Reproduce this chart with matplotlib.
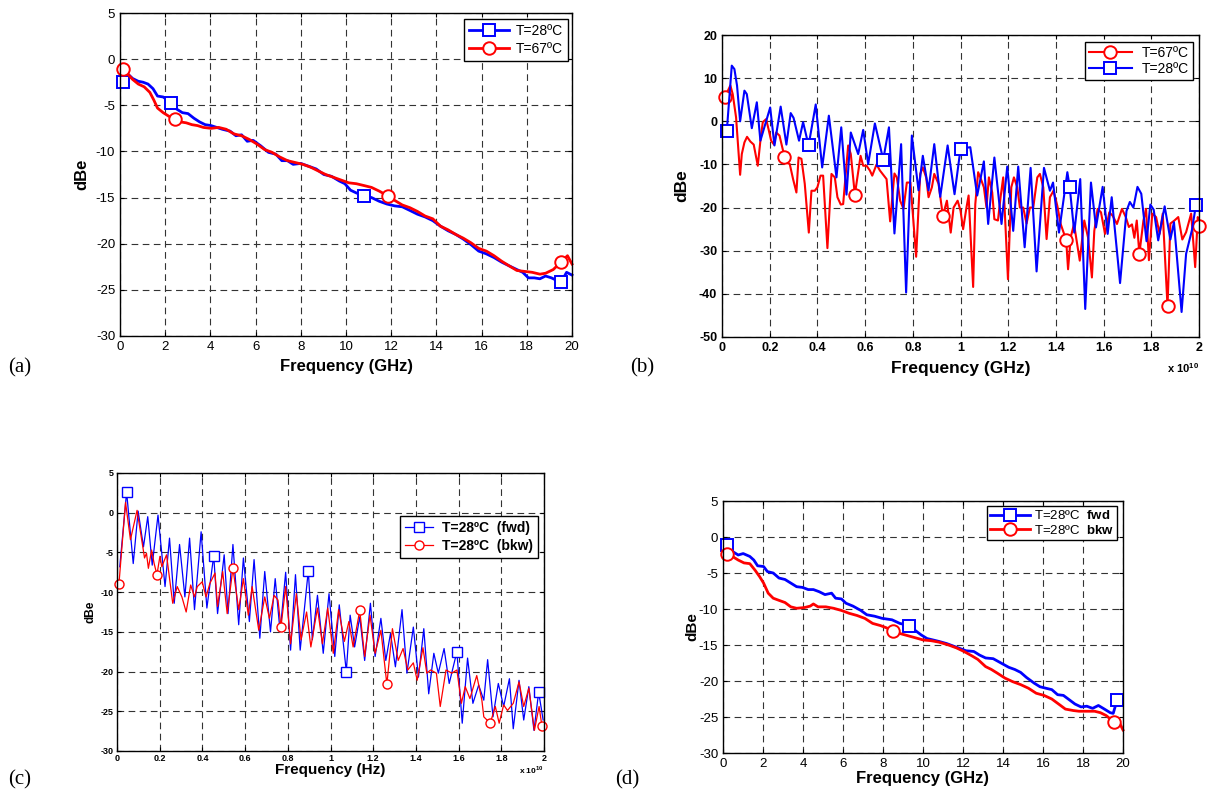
import numpy as np
import matplotlib
matplotlib.use('Agg')
import matplotlib.pyplot as plt

plt.rcParams['font.family'] = ['Liberation Sans', 'DejaVu Sans']
plt.rcParams['mathtext.fontset'] = 'custom'
plt.rcParams['mathtext.rm'] = 'Liberation Sans'
plt.rcParams['mathtext.bf'] = 'Liberation Sans:bold'
plt.rcParams['axes.unicode_minus'] = False

W, H = 1208, 800

# ---------------- (a) frequency in GHz ----------------
a_f28 = [0.14, 0.3, 0.56, 0.81, 1.02, 1.24, 1.46, 1.66, 1.91, 2.25, 2.5, 2.76, 3.01, 3.27, 3.52,
         3.77, 4.03, 4.28, 4.53, 4.87, 5.13, 5.38, 5.63, 5.89, 6.23, 6.57, 6.9, 7.16, 7.41, 7.66,
         8.0, 8.34, 8.68, 9.02, 9.36, 9.7, 9.95, 10.2, 10.46, 10.8, 11.13, 11.47, 11.81, 12.15,
         12.49, 12.83, 13.16, 13.5, 13.84, 14.18, 14.52, 14.86, 15.19, 15.53, 15.87, 16.21, 16.55,
         16.89, 17.22, 17.56, 17.82, 18.07, 18.33, 18.58, 18.83, 19.09, 19.34, 19.51, 19.76, 20.0]
a_db28 = [-2.5, -1.5, -2.1, -2.4, -2.5, -2.7, -3.2, -4.0, -4.1, -4.7, -5.4, -5.8, -5.9, -6.4, -6.8,
          -7.1, -7.2, -7.4, -7.6, -7.8, -8.3, -8.2, -8.9, -8.8, -9.4, -10.1, -10.3, -11.0, -11.0, -11.4,
          -11.3, -11.6, -11.9, -12.5, -12.7, -13.2, -13.5, -14.2, -14.5, -14.8, -15.0, -15.4, -15.7, -15.9,
          -16.0, -16.4, -16.8, -17.1, -17.5, -18.1, -18.6, -19.0, -19.5, -20.1, -20.8, -21.1, -21.5,
          -22.0, -22.4, -22.8, -23.1, -23.7, -23.7, -23.8, -23.5, -23.7, -24.0, -24.2, -23.1, -23.4]
a_mk28 = [0.14, 2.25, 10.8, 19.51]

a_f67 = [0.14, 0.3, 0.56, 0.81, 1.07, 1.32, 1.49, 1.66, 1.91, 2.17, 2.42, 2.67, 2.93, 3.18, 3.43,
         3.69, 4.03, 4.37, 4.7, 5.04, 5.38, 5.72, 6.06, 6.4, 6.73, 7.07, 7.41, 7.75, 8.09, 8.43,
         8.76, 9.1, 9.44, 9.78, 10.12, 10.46, 10.8, 11.13, 11.47, 11.84, 12.15, 12.49, 12.83, 13.16,
         13.5, 13.84, 14.18, 14.52, 14.86, 15.19, 15.53, 15.87, 16.21, 16.55, 16.89, 17.22, 17.56,
         17.9, 18.24, 18.58, 18.83, 19.17, 19.51, 19.8, 20.0]
a_db67 = [-1.1, -1.5, -2.2, -2.7, -3.0, -3.6, -4.4, -5.3, -5.8, -6.2, -6.5, -6.8, -6.9, -7.1, -7.2,
          -7.4, -7.5, -7.4, -7.6, -8.1, -8.3, -8.7, -9.2, -9.8, -10.1, -10.6, -11.0, -11.2, -11.4, -11.7,
          -12.1, -12.5, -12.8, -13.1, -13.4, -13.5, -13.7, -13.9, -14.3, -14.8, -15.3, -15.8, -16.1, -16.5,
          -17.0, -17.3, -18.1, -18.5, -19.0, -19.4, -19.9, -20.5, -20.8, -21.3, -21.9, -22.4, -22.9,
          -23.0, -23.1, -23.3, -23.2, -22.8, -22.0, -21.3, -22.2]
a_mk67 = [0.14, 2.42, 11.84, 19.51]

# ---------------- (b) frequency in units of 1e10 Hz ----------------
b_f67 = [0.013, 0.035, 0.045, 0.059, 0.076, 0.083, 0.094, 0.105, 0.119, 0.133, 0.15, 0.161, 0.171,
         0.185, 0.195, 0.206, 0.218, 0.227, 0.241, 0.262, 0.274, 0.284, 0.298, 0.312, 0.321, 0.333,
         0.347, 0.364, 0.375, 0.389, 0.40, 0.413, 0.424, 0.442, 0.459, 0.473, 0.484, 0.498, 0.508,
         0.529, 0.54, 0.557, 0.581, 0.592, 0.606, 0.62, 0.63, 0.648, 0.662, 0.676, 0.69, 0.705, 0.723,
         0.733, 0.747, 0.761, 0.775, 0.79, 0.814, 0.831, 0.842, 0.856, 0.866, 0.88, 0.89, 0.908, 0.926,
         0.943, 0.959, 0.971, 0.988, 1.0, 1.011, 1.025, 1.034, 1.053, 1.062, 1.074, 1.083, 1.098, 1.109,
         1.119, 1.133, 1.142, 1.157, 1.168, 1.179, 1.199, 1.213, 1.224, 1.238, 1.249, 1.263, 1.277,
         1.291, 1.305, 1.322, 1.333, 1.347, 1.361, 1.375, 1.39, 1.406, 1.42, 1.443, 1.451, 1.462, 1.476,
         1.5, 1.519, 1.535, 1.551, 1.561, 1.575, 1.589, 1.606, 1.624, 1.638, 1.656, 1.677, 1.693, 1.706,
         1.719, 1.729, 1.739, 1.75, 1.767, 1.778, 1.79, 1.804, 1.82, 1.835, 1.848, 1.868, 1.88, 1.897,
         1.913, 1.93, 1.946, 1.967, 1.984, 1.995, 2.0]
b_db67 = [5.7, 8.3, 6.3, 0.9, -12.4, -7.6, -4.9, -3.6, -4.7, -5.4, -10.3, -4.5, -0.2,
          0.5, -1.8, -4.5, -5.4, -2.6, -3.3, -8.2, -9.7, -9.9, -13.4, -16.5, -8.4, -8.7,
          -14.5, -25.8, -16.1, -16.1, -15.3, -12.6, -12.6, -29.4, -12.2, -13.0, -17.6, -19.3, -19.2,
          -5.6, -7.6, -17.0, -8.0, -10.3, -10.3, -11.4, -12.6, -10.0, -11.4, -12.4, -13.4, -23.2, -12.1,
          -13.0, -18.4, -20.3, -14.2, -14.2, -31.4, -12.2, -10.7, -13.0, -17.6, -15.3, -12.2, -14.5, -21.9,
          -18.4, -25.8, -20.0, -18.4, -20.7, -25.0, -20.0, -17.2, -38.4, -19.2, -11.8, -13.0, -15.3, -20.0,
          -13.0, -16.5, -22.7, -23.0, -17.6, -13.0, -36.6, -15.3, -13.0, -15.3, -20.0, -20.0, -23.7,
          -20.0, -20.0, -13.0, -12.2, -15.3, -27.3, -17.6, -16.1, -19.6, -23.8, -27.5, -34.3, -26.9, -23.8,
          -32.3, -23.0, -27.0, -36.2, -25.4, -20.3, -21.1, -26.1, -21.1, -21.9, -23.8, -20.3, -22.2, -24.5,
          -23.9, -27.0, -23.0, -30.7, -23.0, -20.3, -32.2, -21.4, -22.2, -26.1, -21.4, -42.9, -23.7, -23.0,
          -22.2, -27.4, -25.7, -21.4, -33.8, -22.2, -24.3]
b_mk67 = [0.013, 0.262, 0.557, 0.926, 1.443, 1.75, 1.868, 2.0]

b_f28 = [0.02, 0.041, 0.052, 0.063, 0.076, 0.094, 0.104, 0.125, 0.146, 0.161, 0.202, 0.22, 0.246,
         0.27, 0.288, 0.30, 0.323, 0.34, 0.363, 0.393, 0.42, 0.448, 0.48, 0.50, 0.522, 0.54, 0.571,
         0.592, 0.613, 0.641, 0.676, 0.70, 0.723, 0.751, 0.772, 0.796, 0.824, 0.842, 0.866, 0.89,
         0.915, 0.946, 0.975, 1.0, 1.041, 1.07, 1.098, 1.116, 1.142, 1.172, 1.196, 1.221, 1.242,
         1.269, 1.294, 1.319, 1.35, 1.375, 1.388, 1.413, 1.448, 1.458, 1.477, 1.502, 1.523, 1.547,
         1.568, 1.596, 1.617, 1.634, 1.669, 1.696, 1.71, 1.725, 1.742, 1.758, 1.78, 1.796, 1.81,
         1.829, 1.856, 1.88, 1.895, 1.927, 1.946, 1.97, 1.987, 2.0]
b_db28 = [-2.3, 12.9, 12.1, 8.3, 0.0, 7.1, 6.3, -1.6, 4.4, -4.5, 3.2, -5.6, 3.4,
          -5.4, 1.9, 0.8, -4.5, -0.2, -5.6, 3.9, -10.7, 1.3, -13.0, -1.4, -17.0, -2.6, -7.6,
          -2.0, -9.9, -0.5, -8.9, -1.4, -26.0, -5.3, -39.7, -3.3, -16.0, -8.0, -16.0, -5.3,
          -17.5, -5.6, -16.9, -6.4, -6.0, -17.2, -9.3, -23.8, -8.4, -23.8, -10.5, -25.4, -10.5,
          -29.2, -10.8, -34.8, -10.8, -16.1, -14.2, -25.8, -11.8, -15.3, -25.8, -13.4, -43.5, -14.2,
          -24.6, -15.2, -26.1, -17.6, -37.5, -20.8, -18.7, -20.0, -15.2, -16.8, -27.8, -19.3, -20.5,
          -27.6, -19.7, -27.4, -23.4, -44.2, -30.7, -25.3, -19.5, -19.0]
b_mk28 = [0.02, 0.363, 0.676, 1.0, 1.458, 1.987]

# ---------------- (c) frequency in units of 1e10 Hz ----------------
c_ffwd = [0.013, 0.045, 0.076, 0.099, 0.124, 0.144, 0.165, 0.192, 0.225, 0.246, 0.268, 0.293, 0.318,
          0.34, 0.363, 0.394, 0.421, 0.453, 0.471, 0.502, 0.52, 0.543, 0.57, 0.592, 0.62, 0.642, 0.669,
          0.692, 0.719, 0.741, 0.764, 0.79, 0.813, 0.836, 0.858, 0.896, 0.915, 0.939, 0.966, 0.993,
          1.02, 1.041, 1.074, 1.092, 1.113, 1.137, 1.16, 1.187, 1.209, 1.236, 1.259, 1.281, 1.304,
          1.335, 1.358, 1.388, 1.412, 1.437, 1.46, 1.484, 1.505, 1.532, 1.556, 1.592, 1.617, 1.642,
          1.667, 1.694, 1.718, 1.736, 1.761, 1.786, 1.811, 1.838, 1.856, 1.883, 1.905, 1.929, 1.953,
          1.975, 1.996]
c_dbfwd = [-6.8, 2.6, -6.4, 0.2, -4.3, -0.5, -6.6, -0.3, -9.3, -3.2, -11.4, -4.0, -10.6,
           -3.2, -12.2, -2.4, -12.0, -5.4, -12.7, -5.3, -12.7, -4.0, -14.1, -5.7, -13.7, -5.9, -15.8,
           -7.4, -15.0, -8.3, -15.0, -7.5, -17.3, -7.8, -17.3, -7.3, -16.0, -10.4, -17.7, -10.2,
           -18.1, -11.6, -20.0, -12.9, -16.9, -13.1, -18.6, -11.4, -18.1, -13.3, -18.6, -15.2, -19.4,
           -12.2, -20.2, -14.4, -20.7, -14.6, -22.8, -17.7, -20.2, -17.1, -21.5, -17.5, -26.5, -18.3,
           -24.0, -21.7, -23.6, -18.5, -25.7, -21.5, -24.4, -20.9, -27.2, -21.1, -26.1, -21.9, -27.4,
           -22.6, -26.1]
c_mkfwd = [0.045, 0.453, 0.896, 1.074, 1.592, 1.975]

c_fbkw = [0.009, 0.04, 0.063, 0.094, 0.129, 0.138, 0.147, 0.162, 0.174, 0.187, 0.201, 0.21, 0.232,
          0.261, 0.282, 0.304, 0.324, 0.345, 0.363, 0.376, 0.399, 0.417, 0.435, 0.459, 0.471, 0.495,
          0.516, 0.543, 0.57, 0.592, 0.615, 0.633, 0.664, 0.692, 0.714, 0.736, 0.754, 0.768, 0.79,
          0.813, 0.84, 0.862, 0.888, 0.908, 0.939, 0.962, 0.987, 1.013, 1.038, 1.065, 1.086, 1.106,
          1.137, 1.16, 1.185, 1.209, 1.236, 1.264, 1.29, 1.317, 1.34, 1.362, 1.388, 1.406, 1.433,
          1.451, 1.469, 1.496, 1.514, 1.541, 1.568, 1.592, 1.613, 1.631, 1.653, 1.685, 1.709, 1.718,
          1.748, 1.772, 1.79, 1.811, 1.829, 1.856, 1.883, 1.905, 1.929, 1.955, 1.977, 1.99]
c_dbbkw = [-9.0, 1.3, -3.4, 0.3, -5.7, -5.1, -7.0, -4.7, -6.4, -7.8, -5.5, -6.8, -5.3,
           -11.4, -9.3, -10.6, -12.5, -9.1, -10.6, -9.3, -8.7, -10.6, -8.9, -7.6, -11.8, -7.4,
           -12.7, -7.0, -12.2, -8.3, -12.9, -9.3, -14.8, -10.6, -13.3, -10.4, -11.0, -14.4, -9.3,
           -16.5, -10.2, -16.0, -12.5, -16.9, -12.0, -16.5, -12.0, -17.7, -12.2, -16.2, -13.7, -16.9,
           -12.3, -18.1, -12.9, -17.7, -14.8, -21.6, -14.6, -18.6, -17.1, -19.8, -18.9, -21.1, -17.0,
           -20.2, -19.8, -20.2, -24.4, -19.8, -20.2, -19.8, -24.0, -21.9, -23.4, -20.5, -23.6, -25.7,
           -26.5, -24.4, -26.5, -24.2, -24.9, -24.0, -21.3, -24.4, -22.1, -27.4, -24.4, -26.8]
c_mkbkw = [0.009, 0.187, 0.543, 0.768, 1.137, 1.264, 1.748, 1.99]

# ---------------- (d) frequency in GHz ----------------
d_ffwd = [0.19, 0.47, 0.76, 1.01, 1.34, 1.54, 1.73, 2.03, 2.22, 2.51, 2.8, 3.1, 3.39, 3.68, 3.97,
          4.26, 4.52, 4.81, 5.1, 5.43, 5.63, 5.92, 6.15, 6.5, 6.89, 7.19, 7.58, 7.96, 8.45, 8.84,
          9.31, 9.62, 9.91, 10.2, 10.5, 10.79, 11.18, 11.47, 11.76, 12.15, 12.54, 12.83, 13.13,
          13.51, 13.9, 14.29, 14.59, 14.88, 15.17, 15.56, 15.85, 16.14, 16.44, 16.73, 17.02, 17.31,
          17.6, 17.9, 18.19, 18.48, 18.77, 19.07, 19.36, 19.51, 19.71, 19.94]
d_dbfwd = [-1.1, -2.0, -2.5, -2.3, -2.7, -3.2, -4.0, -4.1, -4.8, -5.0, -5.7, -5.9, -6.4, -6.9, -7.0,
           -7.3, -7.3, -7.6, -8.0, -7.8, -8.5, -8.6, -9.2, -9.6, -10.2, -10.8, -11.0, -11.3, -11.5, -12.0,
           -12.3, -13.0, -13.6, -14.1, -14.3, -14.5, -14.8, -15.1, -15.4, -15.8, -15.9, -16.4, -16.8,
           -16.9, -17.5, -18.1, -18.4, -18.8, -19.5, -20.3, -20.8, -21.0, -21.2, -21.9, -22.0, -22.6,
           -23.2, -23.6, -23.5, -23.8, -23.4, -23.9, -24.4, -24.5, -22.6, -22.4]
d_mkfwd = [0.19, 9.31, 19.71]

d_fbkw = [0.19, 0.47, 0.76, 1.05, 1.34, 1.6, 1.83, 2.03, 2.26, 2.51, 2.8, 3.1, 3.39, 3.68, 4.07,
          4.36, 4.52, 4.75, 5.14, 5.53, 5.92, 6.31, 6.7, 7.09, 7.48, 7.87, 8.16, 8.49, 8.84, 9.23,
          9.62, 10.01, 10.4, 10.79, 11.28, 11.67, 12.05, 12.44, 12.74, 13.13, 13.42, 13.71, 14.1,
          14.49, 14.88, 15.27, 15.66, 16.05, 16.44, 16.83, 17.12, 17.51, 17.8, 18.19, 18.58, 18.87,
          19.16, 19.55, 19.75, 20.0]
d_dbbkw = [-2.3, -2.7, -3.2, -3.6, -3.7, -4.6, -5.5, -6.4, -7.8, -8.5, -8.8, -9.1, -9.7, -9.9, -9.8,
           -9.6, -9.3, -9.7, -9.7, -9.9, -10.2, -10.6, -10.9, -11.3, -12.0, -12.3, -12.6, -13.0, -13.4, -13.7,
           -14.0, -14.3, -14.4, -14.6, -15.0, -15.4, -15.9, -16.5, -17.0, -18.0, -18.4, -18.9, -19.6,
           -20.1, -20.5, -21.0, -21.7, -22.0, -22.5, -23.3, -23.9, -24.1, -24.2, -24.2, -24.2, -24.4,
           -24.8, -25.7, -25.4, -26.8]
d_mkbkw = [0.19, 8.49, 19.55]

ghz_ticks = list(range(0, 21, 2))
e10_ticks = [0, 0.2, 0.4, 0.6, 0.8, 1, 1.2, 1.4, 1.6, 1.8, 2]
e10_labels = ['0', '0.2', '0.4', '0.6', '0.8', '1', '1.2', '1.4', '1.6', '1.8', '2']

BLUE = '#0000ff'
RED = '#ff0000'

fig = plt.figure(figsize=(W / 100, H / 100), dpi=100)


def panel(box, xlim, xticks, xlabels, ylim, yticks, tsize, tweight, tpad):
    l, t, r, b = box
    ax = fig.add_axes([l / W, 1 - b / H, (r - l) / W, (b - t) / H])
    ax.set_xlim(xlim)
    ax.set_ylim(ylim)
    ax.set_xticks(xticks)
    ax.set_xticklabels(xlabels)
    ax.set_yticks(yticks)
    ax.grid(True, linestyle=(0, (6, 4)), linewidth=0.8, color='0.2')
    ax.tick_params(direction='in', top=True, right=True, length=3, width=0.8,
                   labelsize=tsize, pad=tpad)
    for lab in ax.get_xticklabels() + ax.get_yticklabels():
        lab.set_fontweight(tweight)
    for s in ax.spines.values():
        s.set_linewidth(1.0)
        s.set_color('black')
    return ax, (r - l), (b - t)


def curve(ax, x, y, marks, color, marker, lw, ms, mew, label):
    x = np.asarray(x)
    idx = [int(np.argmin(np.abs(x - m))) for m in marks]
    ax.plot(x, y, color=color, lw=lw, marker=marker, markevery=idx, ms=ms,
            mfc='white', mec=color, mew=mew, label=label, clip_on=False)


def labels(ax, wpx, hpx, xl, yl, xsize, ysize, xoff, yoff):
    ax.set_xlabel(xl, fontsize=xsize, fontweight='bold', va='center')
    ax.set_ylabel(yl, fontsize=ysize, fontweight='bold', va='center')
    ax.xaxis.set_label_coords(0.5, -xoff / hpx)
    ax.yaxis.set_label_coords(-yoff / wpx, 0.5)


def legend(ax, wpx, hpx, corner, size, weight, hl, htp, ls, bp):
    l, t = corner
    leg = ax.legend(loc='upper right', bbox_to_anchor=(l, t), borderaxespad=0,
                    fancybox=False, edgecolor='black', framealpha=1,
                    prop={'size': size, 'weight': weight},
                    handlelength=hl, handletextpad=htp, labelspacing=ls, borderpad=bp)
    leg.get_frame().set_linewidth(1.0)


# (a)
ax, w, h = panel((120, 13, 572, 336), (0, 20), ghz_ticks, [str(v) for v in ghz_ticks],
                 (-30, 5), list(range(-30, 6, 5)), 9.5, 'normal', 3.5)
curve(ax, a_f28, a_db28, a_mk28, BLUE, 's', 2.0, 9, 1.4, 'T=28ºC')
curve(ax, a_f67, a_db67, a_mk67, RED, 'o', 2.0, 9, 1.4, 'T=67ºC')
labels(ax, w, h, 'Frequency (GHz)', 'dBe', 12, 12, 31, 38)
legend(ax, w, h, (0.991, 0.981), 10, 'normal', 2.9, 0.5, 0.3, 0.35)

# (b)
ax, w, h = panel((722, 35, 1199, 337), (0, 2), e10_ticks, e10_labels,
                 (-50, 20), list(range(-50, 21, 10)), 9, 'bold', 3.5)
curve(ax, b_f67, b_db67, b_mk67, RED, 'o', 1.5, 9, 1.4, 'T=67ºC')
curve(ax, b_f28, b_db28, b_mk28, BLUE, 's', 1.5, 9, 1.4, 'T=28ºC')
labels(ax, w, h, 'Frequency (GHz)', 'dBe', 12.5, 12.5, 31, 40)
legend(ax, w, h, (0.987, 0.977), 10, 'normal', 3.1, 0.7, 0.15, 0.3)
ax.text(1.0, -31 / h, r'x 10$^{\mathbf{10}}$', transform=ax.transAxes, ha='right',
        va='center', fontsize=8, fontweight='bold')

# (c)
ax, w, h = panel((117, 473, 544, 751), (0, 2), e10_ticks, e10_labels,
                 (-30, 5), list(range(-30, 6, 5)), 6.5, 'bold', 2.5)
curve(ax, c_ffwd, c_dbfwd, c_mkfwd, BLUE, 's', 0.9, 6.5, 1.0, 'T=28ºC  (fwd)')
curve(ax, c_fbkw, c_dbbkw, c_mkbkw, RED, 'o', 0.9, 6.5, 1.0, 'T=28ºC  (bkw)')
labels(ax, w, h, 'Frequency (Hz)', 'dBe', 11, 8.5, 19, 27)
legend(ax, w, h, (0.986, 0.845), 10, 'bold', 2.0, 0.65, 0.3, 0.35)
ax.text(1.0, -19 / h, r'x 10$^{\mathbf{10}}$', transform=ax.transAxes, ha='right',
        va='center', fontsize=6, fontweight='bold')

# (d)
ax, w, h = panel((723, 501, 1123, 753), (0, 20), ghz_ticks, [str(v) for v in ghz_ticks],
                 (-30, 5), list(range(-30, 6, 5)), 9.5, 'normal', 3.5)
curve(ax, d_ffwd, d_dbfwd, d_mkfwd, BLUE, 's', 2.0, 9, 1.4, r'T=28ºC  $\mathbf{fwd}$')
curve(ax, d_fbkw, d_dbbkw, d_mkbkw, RED, 'o', 2.0, 9, 1.4, r'T=28ºC  $\mathbf{bkw}$')
labels(ax, w, h, 'Frequency (GHz)', 'dBe', 12, 11, 25, 31)
legend(ax, w, h, (0.985, 0.98), 9.5, 'normal', 3.0, 0.3, 0.1, 0.25)

# panel letters
for txt, x, y in [('(a)', 8, 368), ('(b)', 630, 368), ('(c)', 8, 780), ('(d)', 615, 780)]:
    fig.text(x / W, 1 - y / H, txt, family=['Liberation Serif', 'DejaVu Serif'],
             fontsize=15, ha='left', va='center')

fig.savefig('out.png', dpi=100)
